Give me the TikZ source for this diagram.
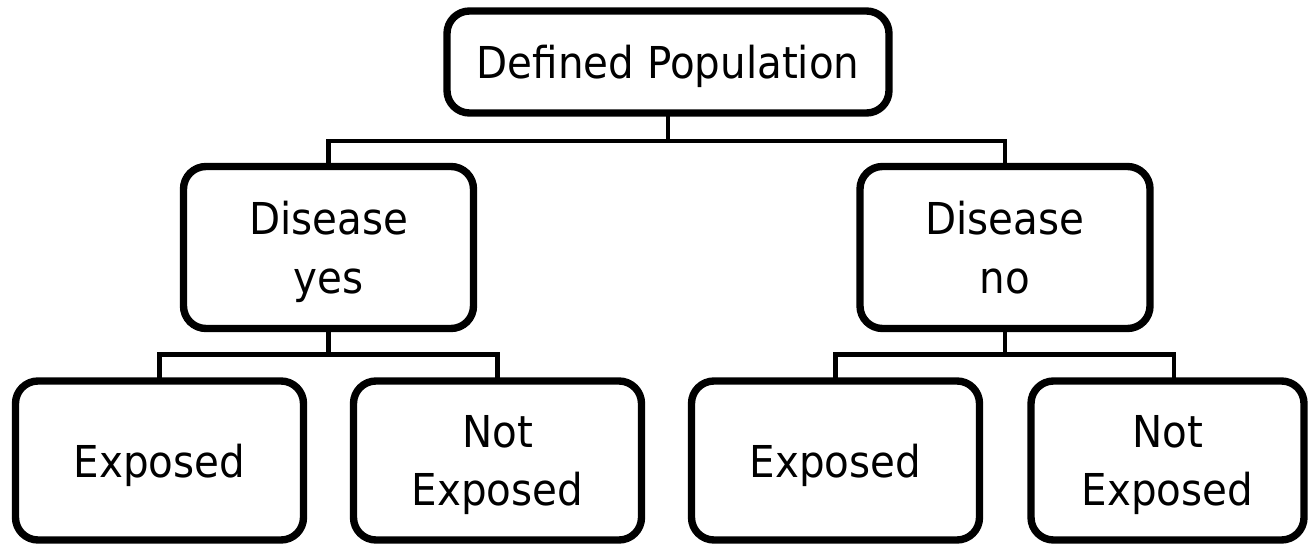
\documentclass[tikz,border=0pt]{standalone}
\usepackage{fontspec}
\setmainfont{DejaVu Sans}[FakeStretch=0.92]
\usepackage{tikz}

\begin{document}
\begin{tikzpicture}
\tikzset{box/.style={draw,line width=4.2pt,rounded corners=0.45cm,inner sep=0pt,outer sep=0pt,align=center,
  text depth=0pt,font=\fontsize{25pt}{33.5pt}\selectfont},
  midbox/.style={box,minimum width=5.8cm,minimum height=3.24cm},
  leafbox/.style={box,minimum width=5.76cm,minimum height=3.18cm},
  conn/.style={line width=2.8pt}}
\useasboundingbox (0,0) rectangle (26.16,10.88);
\clip (0,0) rectangle (26.16,10.88);

\node[box,minimum width=8.84cm,minimum height=2.04cm] (pop) at (13.36,9.64) {Defined Population};
\node[midbox] (dyes) at (6.57,5.93) {Disease\\yes};
\node[midbox] (dno) at (20.1,5.93) {Disease\\no};
\node[leafbox] (yexp) at (3.19,1.67) {Exposed};
\node[leafbox] (ynot) at (9.95,1.67) {Not\\Exposed};
\node[leafbox] (nexp) at (16.71,1.67) {Exposed};
\node[leafbox,minimum width=5.46cm] (nnot) at (23.35,1.67) {Not\\Exposed};

%connectors
\draw[conn] (pop.south) -- ++(0,-0.56) -| (dyes.north);
\draw[conn] (pop.south) -- ++(0,-0.56) -| (dno.north);
\draw[conn] (dyes.south) -- ++(0,-0.52) -| (yexp.north);
\draw[conn] (dyes.south) -- ++(0,-0.52) -| (ynot.north);
\draw[conn] (dno.south) -- ++(0,-0.52) -| (nexp.north);
\draw[conn] (dno.south) -- ++(0,-0.52) -| ([xshift=0.13cm]nnot.north);

\end{tikzpicture}
\end{document}
